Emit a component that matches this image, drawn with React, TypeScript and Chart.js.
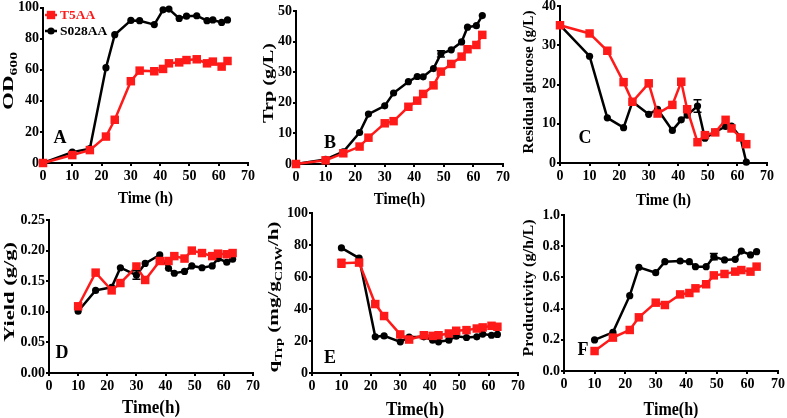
import { useEffect, useRef } from 'react';
import { Chart, registerables } from 'chart.js';

Chart.register(...registerables);

// ---------------- data ----------------
const SERIES_NAMES = ['T5AA', 'S028AA'];
const TIME_H = [0, 10, 16, 21.5, 24.5, 30, 33, 38, 41, 43, 46.5, 49, 52.5, 56, 58, 61, 63];
const TIME_H_RATE = [10, 16, 21.5, 24.5, 30, 33, 38, 41, 43, 46.5, 49, 52.5, 56, 58, 61, 63];
const X_TICKS = [0, 10, 20, 30, 40, 50, 60, 70];

// A: OD600
const OD_T5AA = [0, 5.1, 8.3, 17, 27.8, 52.6, 59.4, 59, 60.5, 64.1, 64.7, 66.2, 66.7, 64.1, 65.2, 62, 65.6];
const OD_S028AA = [0, 7, 9.2, 61.3, 82.5, 91.7, 91.5, 89, 98.5, 99, 93, 94.4, 94.7, 91.5, 92, 90.4, 92];
// B: Trp (g/L)
const TRP_T5AA = [0, 1.2, 3.5, 5.7, 8.6, 13.3, 14, 18.7, 20.7, 22.9, 25.7, 30.2, 32.7, 35.1, 37.5, 38.9, 42.2];
const TRP_S028AA = [0, 1.5, 4, 10.3, 16.3, 19, 23.2, 26.9, 28.6, 28.5, 31.2, 36, 37.3, 39.9, 44.7, 45.2, 48.5];
const TRP_S028AA_ERR = [0, 0, 0, 0, 0, 0, 0, 0, 0, 0, 0, 1, 0, 0, 0, 0, 0];
// C: residual glucose (g/L)
const GLC_T5AA = [35.1, 33, 28.6, 20.6, 15.6, 20.3, 12.6, 14.8, 20.7, 13.7, 5.3, 7.1, 7.8, 11, 8.8, 6.5, 4.8];
const GLC_S028AA = [35.1, 27.2, 11.5, 9, 15.6, 12.4, 13.7, 8.3, 11, 12.2, 14.5, 6.3, 7.9, 9.3, 9.4, 6.6, 0.2];
const GLC_S028AA_ERR = [0, 0, 0, 0, 0, 0, 0, 0, 0, 0, 1.6, 0, 0, 0, 0, 0, 0];
// D: yield (g/g)
const YIELD_T5AA = [0.109, 0.164, 0.135, 0.147, 0.174, 0.152, 0.183, 0.183, 0.191, 0.187, 0.2, 0.196, 0.191, 0.195, 0.194, 0.196];
const YIELD_S028AA = [0.101, 0.135, 0.14, 0.172, 0.16, 0.179, 0.193, 0.171, 0.163, 0.166, 0.175, 0.172, 0.175, 0.187, 0.181, 0.186];
const YIELD_S028AA_ERR = [0, 0, 0, 0, 0.007, 0, 0, 0, 0, 0, 0, 0, 0, 0, 0, 0];
// E: qTrp (mg/gCDW/h)
const QTRP_T5AA = [68.6, 69, 43.1, 35.6, 24.1, 20.9, 23.6, 23.2, 23.6, 24.7, 26.4, 26.8, 27.8, 28.5, 29.5, 28.9];
const QTRP_S028AA = [78.2, 71.8, 22.6, 23.2, 19.5, 22.4, 22.6, 20.5, 19.5, 20.5, 23, 22.2, 22.6, 24.3, 23.6, 24.1];
const QTRP_T5AA_ERR = [2.5, 0, 0, 0, 0, 0, 0, 0, 0, 0, 0, 0, 0, 0, 0, 0];
// F: productivity (g/h/L)
const PROD_T5AA = [0.128, 0.214, 0.263, 0.344, 0.438, 0.423, 0.491, 0.5, 0.53, 0.556, 0.613, 0.622, 0.637, 0.647, 0.637, 0.669];
const PROD_S028AA = [0.199, 0.248, 0.483, 0.665, 0.63, 0.701, 0.705, 0.701, 0.669, 0.669, 0.733, 0.712, 0.716, 0.769, 0.744, 0.765];
const PROD_S028AA_ERR = [0, 0, 0, 0, 0, 0, 0, 0, 0, 0, 0.02, 0, 0, 0, 0, 0];

// ---------------- style / layout ----------------
const W = 787;
const H = 418;
const FONT = '"Liberation Serif", "Times New Roman", "DejaVu Serif", serif';
const RED = '#ff1a1a';
const BLACK = '#000000';
const Y_BOX = 46;
const X_BOX = 22;

type Seg = { text: string; sub?: boolean };
interface Panel {
  time: number[];
  red: number[];
  black: number[];
  redErr?: number[];
  blackErr?: number[];
  yMax: number;
  yStep: number;
  yDec: number;
  plot: { left: number; top: number; right: number; bottom: number };
  yTitle: Seg[];
  yTitlePos: [number, number];
  yTitleLen: number;
  xTitle: string;
  xTitleY: number;
  xTitleSize: number;
  letter: string;
  letterPos: [number, number];
  legend?: boolean;
}

const PANELS: Panel[] = [
  {
    time: TIME_H, red: OD_T5AA, black: OD_S028AA,
    yMax: 100, yStep: 20, yDec: 0,
    plot: { left: 43, top: 7.5, right: 248, bottom: 163 },
    yTitle: [{ text: 'OD' }, { text: '600', sub: true }], yTitlePos: [8, 81], yTitleLen: 58,
    xTitle: 'Time (h)', xTitleY: 197, xTitleSize: 15,
    letter: 'A', letterPos: [60, 137], legend: true,
  },
  {
    time: TIME_H, red: TRP_T5AA, black: TRP_S028AA, blackErr: TRP_S028AA_ERR,
    yMax: 50, yStep: 10, yDec: 0,
    plot: { left: 296, top: 11, right: 503, bottom: 164 },
    yTitle: [{ text: 'Trp (g/L)' }], yTitlePos: [268.5, 83], yTitleLen: 80,
    xTitle: 'Time(h)', xTitleY: 198, xTitleSize: 15,
    letter: 'B', letterPos: [330, 142],
  },
  {
    time: TIME_H, red: GLC_T5AA, black: GLC_S028AA, blackErr: GLC_S028AA_ERR,
    yMax: 40, yStep: 10, yDec: 0,
    plot: { left: 560, top: 6, right: 767, bottom: 163 },
    yTitle: [{ text: 'Residual glucose (g/L)' }], yTitlePos: [528, 82], yTitleLen: 143,
    xTitle: 'Time (h)', xTitleY: 199, xTitleSize: 15,
    letter: 'C', letterPos: [585, 137],
  },
  {
    time: TIME_H_RATE, red: YIELD_T5AA, black: YIELD_S028AA, blackErr: YIELD_S028AA_ERR,
    yMax: 0.25, yStep: 0.05, yDec: 2,
    plot: { left: 49, top: 220, right: 253, bottom: 373 },
    yTitle: [{ text: 'Yield (g/g)' }], yTitlePos: [9.5, 292], yTitleLen: 100,
    xTitle: 'Time(h)', xTitleY: 407, xTitleSize: 17,
    letter: 'D', letterPos: [62, 352],
  },
  {
    time: TIME_H_RATE, red: QTRP_T5AA, black: QTRP_S028AA, redErr: QTRP_T5AA_ERR,
    yMax: 100, yStep: 20, yDec: 0,
    plot: { left: 312, top: 213, right: 518, bottom: 373 },
    yTitle: [{ text: 'q' }, { text: 'Trp', sub: true }, { text: ' (mg/g' }, { text: 'CDW', sub: true }, { text: '/h)' }],
    yTitlePos: [273, 297], yTitleLen: 151,
    xTitle: 'Time(h)', xTitleY: 409, xTitleSize: 17,
    letter: 'E', letterPos: [330, 357],
  },
  {
    time: TIME_H_RATE, red: PROD_T5AA, black: PROD_S028AA, blackErr: PROD_S028AA_ERR,
    yMax: 1.0, yStep: 0.2, yDec: 1,
    plot: { left: 564, top: 215, right: 778, bottom: 371 },
    yTitle: [{ text: 'Productivity (g/h/L)' }], yTitlePos: [528, 288], yTitleLen: 137,
    xTitle: 'Time(h)', xTitleY: 409, xTitleSize: 16,
    letter: 'F', letterPos: [583, 349],
  },
];

// ---------------- drawing helpers ----------------
function drawSegs(
  ctx: CanvasRenderingContext2D,
  segs: Seg[],
  cx: number,
  cy: number,
  size: number,
  opts: { rotate?: boolean; len?: number; sy?: number; color?: string; align?: 'center' | 'left' }
) {
  ctx.save();
  ctx.translate(cx, cy);
  if (opts.rotate) ctx.rotate(-Math.PI / 2);
  const fontFor = (s: Seg) => `bold ${s.sub ? size * 0.68 : size}px ${FONT}`;
  let w = 0;
  const widths: number[] = [];
  for (const s of segs) {
    ctx.font = fontFor(s);
    const m = ctx.measureText(s.text).width;
    widths.push(m);
    w += m;
  }
  const sx = opts.len ? opts.len / w : 1;
  ctx.scale(sx, opts.sy ?? 1);
  let x = opts.align === 'left' ? 0 : -w / 2;
  ctx.textBaseline = 'alphabetic';
  ctx.textAlign = 'left';
  ctx.fillStyle = opts.color ?? BLACK;
  segs.forEach((s, i) => {
    ctx.font = fontFor(s);
    ctx.fillText(s.text, x, size * 0.33 + (s.sub ? size * 0.3 : 0));
    x += widths[i];
  });
  ctx.restore();
}

function panelPlugin(p: Panel) {
  return {
    id: 'panelDecor',
    afterDatasetsDraw(chart: any) {
      const ctx: CanvasRenderingContext2D = chart.ctx;
      const xs = chart.scales.x;
      const ys = chart.scales.y;
      // error bars
      chart.data.datasets.forEach((ds: any) => {
        const errs: number[] | undefined = ds.errors;
        if (!errs) return;
        ctx.save();
        ctx.strokeStyle = ds.borderColor;
        ctx.lineWidth = 1.5;
        ds.data.forEach((pt: any, i: number) => {
          const e = errs[i];
          if (!e) return;
          const px = xs.getPixelForValue(pt.x);
          const y1 = ys.getPixelForValue(pt.y + e);
          const y2 = ys.getPixelForValue(pt.y - e);
          ctx.beginPath();
          ctx.moveTo(px, y1);
          ctx.lineTo(px, y2);
          ctx.moveTo(px - 4, y1);
          ctx.lineTo(px + 4, y1);
          ctx.moveTo(px - 4, y2);
          ctx.lineTo(px + 4, y2);
          ctx.stroke();
        });
        ctx.restore();
      });
    },
    afterDraw(chart: any) {
      const ctx: CanvasRenderingContext2D = chart.ctx;
      const area = chart.chartArea;
      // y title
      drawSegs(ctx, p.yTitle, p.yTitlePos[0], p.yTitlePos[1], 15, { rotate: true, len: p.yTitleLen });
      // x title
      drawSegs(ctx, [{ text: p.xTitle }], (area.left + area.right) / 2, p.xTitleY, p.xTitleSize, { sy: 1.12 });
      // panel letter
      drawSegs(ctx, [{ text: p.letter }], p.letterPos[0], p.letterPos[1], 18, {});
      // legend
      if (p.legend) {
        const rows = [
          { name: SERIES_NAMES[0], color: RED, square: true, y: 15 },
          { name: SERIES_NAMES[1], color: BLACK, square: false, y: 31 },
        ];
        rows.forEach((r) => {
          ctx.save();
          ctx.strokeStyle = r.color;
          ctx.fillStyle = r.color;
          ctx.lineWidth = 2.5;
          ctx.beginPath();
          ctx.moveTo(45, r.y);
          ctx.lineTo(57, r.y);
          ctx.stroke();
          if (r.square) {
            ctx.fillRect(51 - 4.2, r.y - 4.2, 8.4, 8.4);
          } else {
            ctx.beginPath();
            ctx.arc(51, r.y, 3.6, 0, Math.PI * 2);
            ctx.fill();
          }
          ctx.restore();
          drawSegs(ctx, [{ text: r.name }], 60, r.y, 13.5, { color: r.color, align: 'left' });
        });
      }
    },
  };
}

function buildChart(canvas: HTMLCanvasElement, p: Panel) {
  const tickFont = { family: FONT, size: 14, weight: 'bold' as const };
  const axisCommon = {
    grid: { display: true, drawOnChartArea: false, drawTicks: true, tickLength: 3, color: BLACK, lineWidth: 2 },
    border: { display: true, color: BLACK, width: 2 },
  };
  const mk = (vals: number[]) => p.time.map((x, i) => ({ x, y: vals[i] }));
  return new Chart(canvas, {
    type: 'line',
    data: {
      datasets: [
        {
          label: SERIES_NAMES[0],
          data: mk(p.red),
          borderColor: RED,
          backgroundColor: RED,
          borderWidth: 2.5,
          pointStyle: 'rect',
          pointRadius: 6,
          pointBorderWidth: 0,
          tension: 0,
          clip: false,
          errors: p.redErr,
        } as any,
        {
          label: SERIES_NAMES[1],
          data: mk(p.black),
          borderColor: BLACK,
          backgroundColor: BLACK,
          borderWidth: 2.5,
          pointStyle: 'circle',
          pointRadius: 3.6,
          pointBorderWidth: 0,
          tension: 0,
          clip: false,
          errors: p.blackErr,
        } as any,
      ],
    },
    options: {
      responsive: false,
      animation: false,
      devicePixelRatio: 1,
      events: [],
      layout: {
        padding: {
          left: p.plot.left - Y_BOX,
          right: W - p.plot.right,
          top: p.plot.top,
          bottom: H - p.plot.bottom - X_BOX,
        },
      },
      plugins: { legend: { display: false }, tooltip: { enabled: false }, title: { display: false } },
      scales: {
        x: {
          type: 'linear',
          min: X_TICKS[0],
          max: X_TICKS[X_TICKS.length - 1],
          afterBuildTicks: (s: any) => {
            s.ticks = X_TICKS.map((v) => ({ value: v }));
          },
          ticks: { font: tickFont, color: BLACK, padding: 2, maxRotation: 0, autoSkip: false },
          ...axisCommon,
          afterFit: (s: any) => {
            s.height = X_BOX;
            s.paddingLeft = 0;
            s.paddingRight = 0;
          },
        },
        y: {
          type: 'linear',
          min: 0,
          max: p.yMax,
          ticks: {
            stepSize: p.yStep,
            font: tickFont,
            color: BLACK,
            padding: 1,
            autoSkip: false,
            callback: (v: any) => Number(v).toFixed(p.yDec),
          },
          ...axisCommon,
          afterFit: (s: any) => {
            s.width = Y_BOX;
            s.paddingTop = 0;
            s.paddingBottom = 0;
          },
        },
      },
    } as any,
    plugins: [panelPlugin(p)],
  });
}

export default function App() {
  const refs = useRef<(HTMLCanvasElement | null)[]>([]);
  useEffect(() => {
    const charts = PANELS.map((p, i) => buildChart(refs.current[i] as HTMLCanvasElement, p));
    return () => charts.forEach((c) => c.destroy());
  }, []);
  return (
    <div style={{ position: 'fixed', left: 0, top: 0, width: W, height: H, background: '#fff', overflow: 'hidden' }}>
      {PANELS.map((_, i) => (
        <canvas
          key={i}
          ref={(el) => {
            refs.current[i] = el;
          }}
          width={W}
          height={H}
          style={{ position: 'absolute', left: 0, top: 0 }}
        />
      ))}
    </div>
  );
}
